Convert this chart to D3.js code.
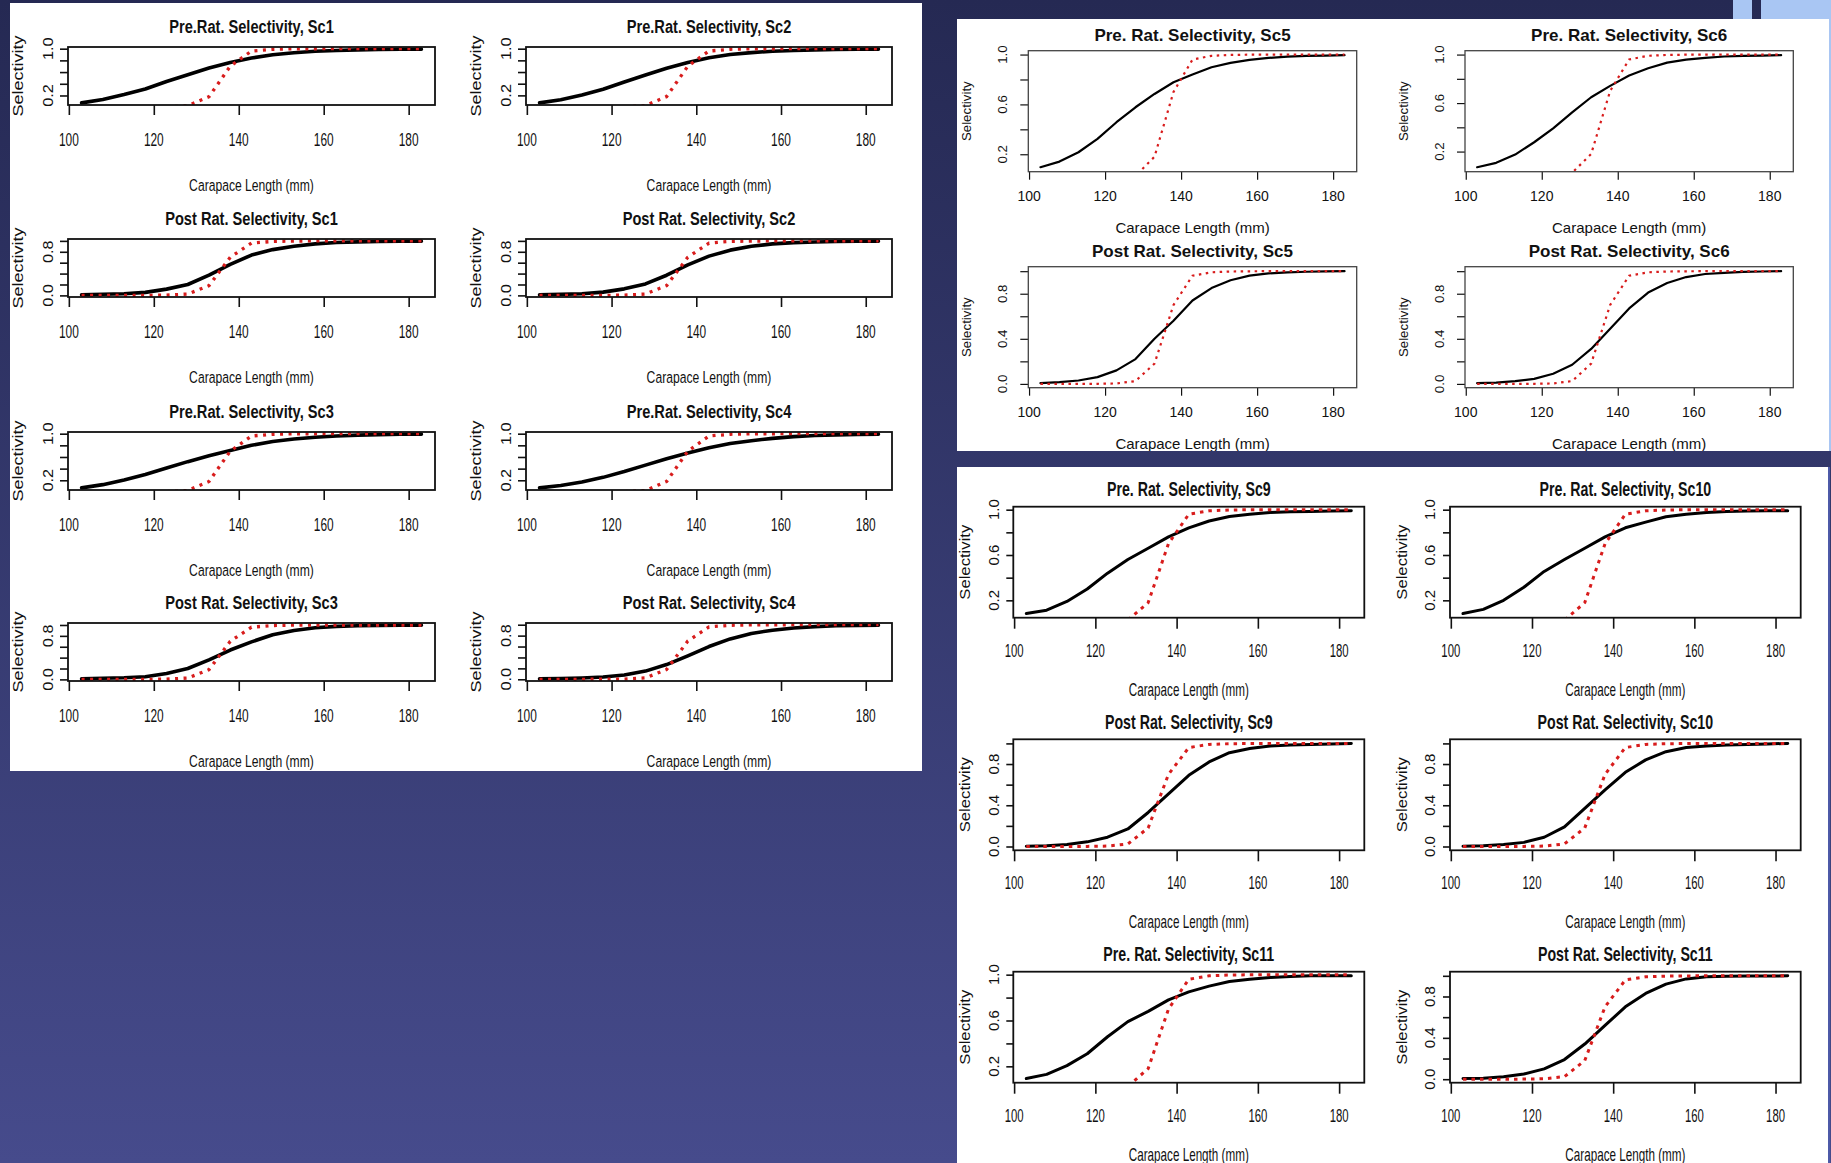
<!DOCTYPE html>
<html>
<head>
<meta charset="utf-8">
<script src="https://cdn.jsdelivr.net/npm/d3@7"></script>
<style>
  html, body { margin: 0; padding: 0; overflow: hidden; background: #262a55; }
  svg { display: block; }
</style>
</head>
<body>
<svg id="chart" width="1831" height="1163"></svg>
<script>
// ---- data -------------------------------------------------------------
// carapace lengths (mm) at which selectivity is evaluated
const lengths = [103, 108, 113, 118, 123, 128, 133, 138, 143, 148, 153, 158, 163, 168, 173, 178, 183];

// reference selectivity (red dotted), common to every scenario
const refSel = [0, 0, 0, 0.001, 0.004, 0.025, 0.18, 0.70, 0.96, 0.99, 0.997, 0.999, 1, 1, 1, 1, 1];

// estimated selectivity (black solid), pre- and post-rationalisation, per scenario
const sc1Pre   = [0.074, 0.13, 0.215, 0.31, 0.44, 0.555, 0.67, 0.765, 0.84, 0.895, 0.93, 0.955, 0.97, 0.98, 0.988, 0.99, 0.992];
const sc1Post  = [0.01, 0.02, 0.03, 0.055, 0.115, 0.2, 0.37, 0.57, 0.74, 0.84, 0.9, 0.945, 0.97, 0.982, 0.99, 0.994, 0.995];
const sc2Pre   = [0.072, 0.125, 0.205, 0.305, 0.43, 0.55, 0.665, 0.765, 0.845, 0.9, 0.932, 0.956, 0.97, 0.98, 0.987, 0.99, 0.992];
const sc2Post  = [0.01, 0.018, 0.03, 0.06, 0.12, 0.21, 0.37, 0.56, 0.72, 0.83, 0.9, 0.945, 0.968, 0.98, 0.988, 0.993, 0.995];
const sc3Pre   = [0.07, 0.125, 0.205, 0.3, 0.41, 0.52, 0.62, 0.71, 0.8, 0.865, 0.91, 0.94, 0.96, 0.975, 0.983, 0.99, 0.992];
const sc3Post  = [0.01, 0.02, 0.03, 0.05, 0.11, 0.2, 0.36, 0.54, 0.69, 0.82, 0.9, 0.95, 0.975, 0.985, 0.992, 0.995, 0.997];
const sc4Pre   = [0.07, 0.11, 0.17, 0.25, 0.35, 0.46, 0.57, 0.67, 0.76, 0.83, 0.88, 0.92, 0.95, 0.97, 0.98, 0.988, 0.992];
const sc4Post  = [0.008, 0.014, 0.024, 0.042, 0.08, 0.15, 0.27, 0.43, 0.6, 0.74, 0.84, 0.9, 0.94, 0.965, 0.98, 0.988, 0.992];
const sc5Pre   = [0.096, 0.141, 0.216, 0.323, 0.457, 0.577, 0.684, 0.778, 0.84, 0.898, 0.933, 0.957, 0.973, 0.984, 0.989, 0.992, 0.995];
const sc5Post  = [0.006, 0.015, 0.03, 0.06, 0.12, 0.22, 0.4, 0.56, 0.74, 0.85, 0.92, 0.96, 0.98, 0.99, 0.995, 0.998, 1.0];
const sc6Pre   = [0.071, 0.107, 0.175, 0.277, 0.392, 0.524, 0.648, 0.742, 0.827, 0.887, 0.934, 0.959, 0.973, 0.984, 0.989, 0.992, 0.995];
const sc6Post  = [0.006, 0.012, 0.024, 0.044, 0.09, 0.17, 0.31, 0.49, 0.67, 0.81, 0.895, 0.948, 0.975, 0.985, 0.994, 0.997, 1.0];
const sc9Pre   = [0.083, 0.113, 0.19, 0.3, 0.44, 0.56, 0.66, 0.76, 0.84, 0.9, 0.94, 0.96, 0.976, 0.982, 0.985, 0.988, 0.99];
const sc9Post  = [0.003, 0.007, 0.02, 0.045, 0.09, 0.17, 0.33, 0.51, 0.69, 0.82, 0.91, 0.95, 0.975, 0.985, 0.99, 0.995, 1.0];
const sc10Pre  = [0.083, 0.12, 0.2, 0.315, 0.455, 0.56, 0.66, 0.76, 0.84, 0.89, 0.937, 0.96, 0.976, 0.985, 0.988, 0.99, 0.99];
const sc10Post = [0.003, 0.008, 0.02, 0.04, 0.09, 0.19, 0.37, 0.55, 0.72, 0.84, 0.92, 0.96, 0.976, 0.985, 0.99, 0.995, 1.0];
const sc11Pre  = [0.093, 0.13, 0.206, 0.31, 0.458, 0.59, 0.68, 0.78, 0.85, 0.9, 0.94, 0.96, 0.976, 0.985, 0.99, 0.99, 0.99];
const sc11Post = [0.006, 0.01, 0.023, 0.05, 0.1, 0.19, 0.34, 0.52, 0.7, 0.83, 0.92, 0.97, 0.99, 0.995, 0.997, 0.998, 1.0];

// axis ticks and the tick labels printed
const xTicks = [100, 120, 140, 160, 180];
const yTicksPre = [0.2, 0.4, 0.6, 0.8, 1.0];
const yTicksPost = [0.0, 0.2, 0.4, 0.6, 0.8, 1.0];
const yLabelsPreNarrow = [0.2, 1.0];
const yLabelsPostNarrow = [0.0, 0.8];
const yLabelsPre = [0.2, 0.6, 1.0];
const yLabelsPost = [0.0, 0.4, 0.8];

const xTitle = "Carapace Length (mm)";
const yTitle = "Selectivity";

// ---- layout & style -----------------------------------------------------
const W = 1831, H = 1163;
const FONT = "'Liberation Sans', Arial, Helvetica, sans-serif";
const RED = "#d81c1c";
const INK = "#111";

const svg = d3.select("#chart");
const defs = svg.append("defs");

const bg = defs.append("linearGradient").attr("id", "bgGrad")
  .attr("x1", 0).attr("y1", 0).attr("x2", 0).attr("y2", 1);
bg.append("stop").attr("offset", 0).attr("stop-color", "#252953");
bg.append("stop").attr("offset", 1).attr("stop-color", "#464b8c");
svg.append("rect").attr("width", W).attr("height", H).attr("fill", "url(#bgGrad)");

// small accent blocks along the top edge
svg.append("rect").attr("x", 1733).attr("y", 0).attr("width", 19).attr("height", 19).attr("fill", "#a9c6f3");
svg.append("rect").attr("x", 1761).attr("y", 0).attr("width", 70).attr("height", 19).attr("fill", "#a9c6f3");

// styling of the three figure sheets
const styleA = {
  titleSize: 18.5, titleSx: 0.79, titleOff: -20,
  xTickLen: 10, yTickLen: 8, tickW: 1.6,
  xTickFont: 18, xTickSx: 0.66, xTickOff: 35,
  xlabFont: 16.3, xlabSx: 0.745, xlabOff: 80,
  yTickFont: 16.3, yTickSx: 0.85, yTickOff: -20,
  ylabFont: 18, ylabSx: 0.8, ylabOff: -50,
  lw: 3.6, redW: 3.3, dash: "3,5.5", boxW: 1.8, boxColor: "#111",
  yLabPre: yLabelsPreNarrow, yLabPost: yLabelsPostNarrow
};
const styleB = {
  titleSize: 17, titleSx: 1, titleOff: -15.7,
  xTickLen: 8, yTickLen: 8, tickW: 1.2,
  xTickFont: 14, xTickSx: 1, xTickOff: 24.3,
  xlabFont: 15, xlabSx: 1, xlabOff: 56,
  yTickFont: 13.3, yTickSx: 1, yTickOff: -25.6,
  ylabFont: 13.3, ylabSx: 1, ylabOff: -62,
  lw: 2.2, redW: 2.2, dash: "2.5,4.5", boxW: 1.3, boxColor: "#444",
  yLabPre: yLabelsPre, yLabPost: yLabelsPost
};
const styleC = {
  titleSize: 20, titleSx: 0.71, titleOff: -17.7,
  xTickLen: 11, yTickLen: 7, tickW: 1.6,
  xTickFont: 18.6, xTickSx: 0.61, xTickOff: 32.3,
  xlabFont: 17.7, xlabSx: 0.66, xlabOff: 72,
  yTickFont: 15, yTickSx: 1, yTickOff: -20,
  ylabFont: 16.7, ylabSx: 0.83, ylabOff: -48,
  lw: 3.0, redW: 3.0, dash: "3.5,5", boxW: 1.8, boxColor: "#111",
  yLabPre: yLabelsPre, yLabPost: yLabelsPost
};

const sheets = [
  {
    id: "A", rect: [10, 3, 912, 768], style: styleA,
    cols: [[68, 435], [526, 892]], rows: [47, 239, 432, 623], h: 58,
    plots: [
      { c: 0, r: 0, kind: "pre",  title: "Pre.Rat. Selectivity, Sc1",  est: sc1Pre },
      { c: 1, r: 0, kind: "pre",  title: "Pre.Rat. Selectivity, Sc2",  est: sc2Pre },
      { c: 0, r: 1, kind: "post", title: "Post Rat. Selectivity, Sc1", est: sc1Post },
      { c: 1, r: 1, kind: "post", title: "Post Rat. Selectivity, Sc2", est: sc2Post },
      { c: 0, r: 2, kind: "pre",  title: "Pre.Rat. Selectivity, Sc3",  est: sc3Pre },
      { c: 1, r: 2, kind: "pre",  title: "Pre.Rat. Selectivity, Sc4",  est: sc4Pre },
      { c: 0, r: 3, kind: "post", title: "Post Rat. Selectivity, Sc3", est: sc3Post },
      { c: 1, r: 3, kind: "post", title: "Post Rat. Selectivity, Sc4", est: sc4Post }
    ]
  },
  {
    id: "B", rect: [957, 19, 872, 432], style: styleB,
    cols: [[1028.3, 1356.7], [1465, 1793.3]], rows: [50.7, 266.7], h: 121,
    plots: [
      { c: 0, r: 0, kind: "pre",  title: "Pre. Rat. Selectivity, Sc5",  est: sc5Pre },
      { c: 1, r: 0, kind: "pre",  title: "Pre. Rat. Selectivity, Sc6",  est: sc6Pre },
      { c: 0, r: 1, kind: "post", title: "Post Rat. Selectivity, Sc5", est: sc5Post },
      { c: 1, r: 1, kind: "post", title: "Post Rat. Selectivity, Sc6", est: sc6Post }
    ]
  },
  {
    id: "C", rect: [957, 467, 871, 696], style: styleC,
    cols: [[1013.3, 1364.3], [1450, 1800.7]], rows: [506.7, 739.3, 971.7], h: 111,
    plots: [
      { c: 0, r: 0, kind: "pre",  title: "Pre. Rat. Selectivity, Sc9",   est: sc9Pre },
      { c: 1, r: 0, kind: "pre",  title: "Pre. Rat. Selectivity, Sc10",  est: sc10Pre },
      { c: 0, r: 1, kind: "post", title: "Post Rat. Selectivity, Sc9",  est: sc9Post },
      { c: 1, r: 1, kind: "post", title: "Post Rat. Selectivity, Sc10", est: sc10Post },
      { c: 0, r: 2, kind: "pre",  title: "Pre. Rat. Selectivity, Sc11",  est: sc11Pre },
      { c: 1, r: 2, kind: "post", title: "Post Rat. Selectivity, Sc11", est: sc11Post }
    ]
  }
];

// R-style axis limits: data range widened by 4% on each side
function rRange(values) {
  const [lo, hi] = d3.extent(values);
  const pad = (hi - lo) * 0.04;
  return [lo - pad, hi + pad];
}

function addText(g, txt, cx, cy, size, sx, opts = {}) {
  return g.append("text")
    .attr("transform", `translate(${cx},${cy}) scale(${sx},1)` + (opts.rotate ? " rotate(-90)" : ""))
    .attr("text-anchor", "middle")
    .attr("dy", "0.35em")
    .attr("font-family", FONT)
    .attr("font-size", size)
    .attr("font-weight", opts.bold ? "bold" : "normal")
    .attr("fill", INK)
    .text(txt);
}

let clipCount = 0;

function drawPlot(g, box, st, p) {
  const xs = d3.scaleLinear().domain(rRange(lengths)).range([box.x0, box.x1]);
  const ys = d3.scaleLinear().domain(rRange(p.est)).range([box.y1, box.y0]);

  const clipId = "plotClip" + (clipCount++);
  defs.append("clipPath").attr("id", clipId).append("rect")
    .attr("x", box.x0).attr("y", box.y0)
    .attr("width", box.x1 - box.x0).attr("height", box.y1 - box.y0);

  const line = d3.line().x((d, i) => xs(lengths[i])).y(d => ys(d));
  const area = g.append("g").attr("clip-path", `url(#${clipId})`);
  area.append("path").datum(p.est).attr("d", line)
    .attr("fill", "none").attr("stroke", "#000").attr("stroke-width", st.lw)
    .attr("stroke-linejoin", "round").attr("stroke-linecap", "round");
  area.append("path").datum(refSel).attr("d", line)
    .attr("fill", "none").attr("stroke", RED).attr("stroke-width", st.redW)
    .attr("stroke-dasharray", st.dash).attr("stroke-linecap", "butt");

  // x axis ticks + labels
  const xAx = g.append("g").attr("transform", `translate(0,${box.y1})`)
    .call(d3.axisBottom(xs).tickValues(xTicks).tickSize(st.xTickLen).tickSizeOuter(0).tickFormat(""));
  xAx.select(".domain").remove();
  xAx.selectAll(".tick line").attr("stroke", INK).attr("stroke-width", st.tickW);
  xAx.selectAll(".tick text").remove();
  xTicks.forEach(v => addText(g, d3.format("d")(v), xs(v), box.y1 + st.xTickOff, st.xTickFont, st.xTickSx));

  // y axis ticks + the labels R kept
  const yt = p.kind === "pre" ? yTicksPre : yTicksPost;
  const yl = p.kind === "pre" ? st.yLabPre : st.yLabPost;
  const yAx = g.append("g").attr("transform", `translate(${box.x0},0)`)
    .call(d3.axisLeft(ys).tickValues(yt).tickSize(st.yTickLen).tickSizeOuter(0).tickFormat(""));
  yAx.select(".domain").remove();
  yAx.selectAll(".tick line").attr("stroke", INK).attr("stroke-width", st.tickW);
  yAx.selectAll(".tick text").remove();
  yl.forEach(v => addText(g, d3.format(".1f")(v), box.x0 + st.yTickOff, ys(v), st.yTickFont, st.yTickSx, { rotate: true }));

  // frame
  g.append("rect").attr("x", box.x0).attr("y", box.y0)
    .attr("width", box.x1 - box.x0).attr("height", box.y1 - box.y0)
    .attr("fill", "none").attr("stroke", st.boxColor).attr("stroke-width", st.boxW);

  // titles
  const cx = (box.x0 + box.x1) / 2, cy = (box.y0 + box.y1) / 2;
  addText(g, p.title, cx, box.y0 + st.titleOff, st.titleSize, st.titleSx, { bold: true });
  addText(g, xTitle, cx, box.y1 + st.xlabOff, st.xlabFont, st.xlabSx);
  addText(g, yTitle, box.x0 + st.ylabOff, cy, st.ylabFont, st.ylabSx, { rotate: true });
}

sheets.forEach(sheet => {
  const [rx, ry, rw, rh] = sheet.rect;
  const sid = "sheetClip" + sheet.id;
  defs.append("clipPath").attr("id", sid).append("rect")
    .attr("x", rx).attr("y", ry).attr("width", rw).attr("height", rh);
  const sg = svg.append("g").attr("clip-path", `url(#${sid})`);
  sg.append("rect").attr("x", rx).attr("y", ry).attr("width", rw).attr("height", rh).attr("fill", "#fff");
  sheet.plots.forEach(p => {
    const box = {
      x0: sheet.cols[p.c][0], x1: sheet.cols[p.c][1],
      y0: sheet.rows[p.r], y1: sheet.rows[p.r] + sheet.h
    };
    drawPlot(sg.append("g"), box, sheet.style, p);
  });
});

// thin edge rules on the right-hand sheets
svg.append("rect").attr("x", 1829).attr("y", 19).attr("width", 2).attr("height", 432).attr("fill", "#a9c6f3");
svg.append("rect").attr("x", 1828).attr("y", 467).attr("width", 2).attr("height", 696).attr("fill", "#4d5aa8");
</script>
</body>
</html>
